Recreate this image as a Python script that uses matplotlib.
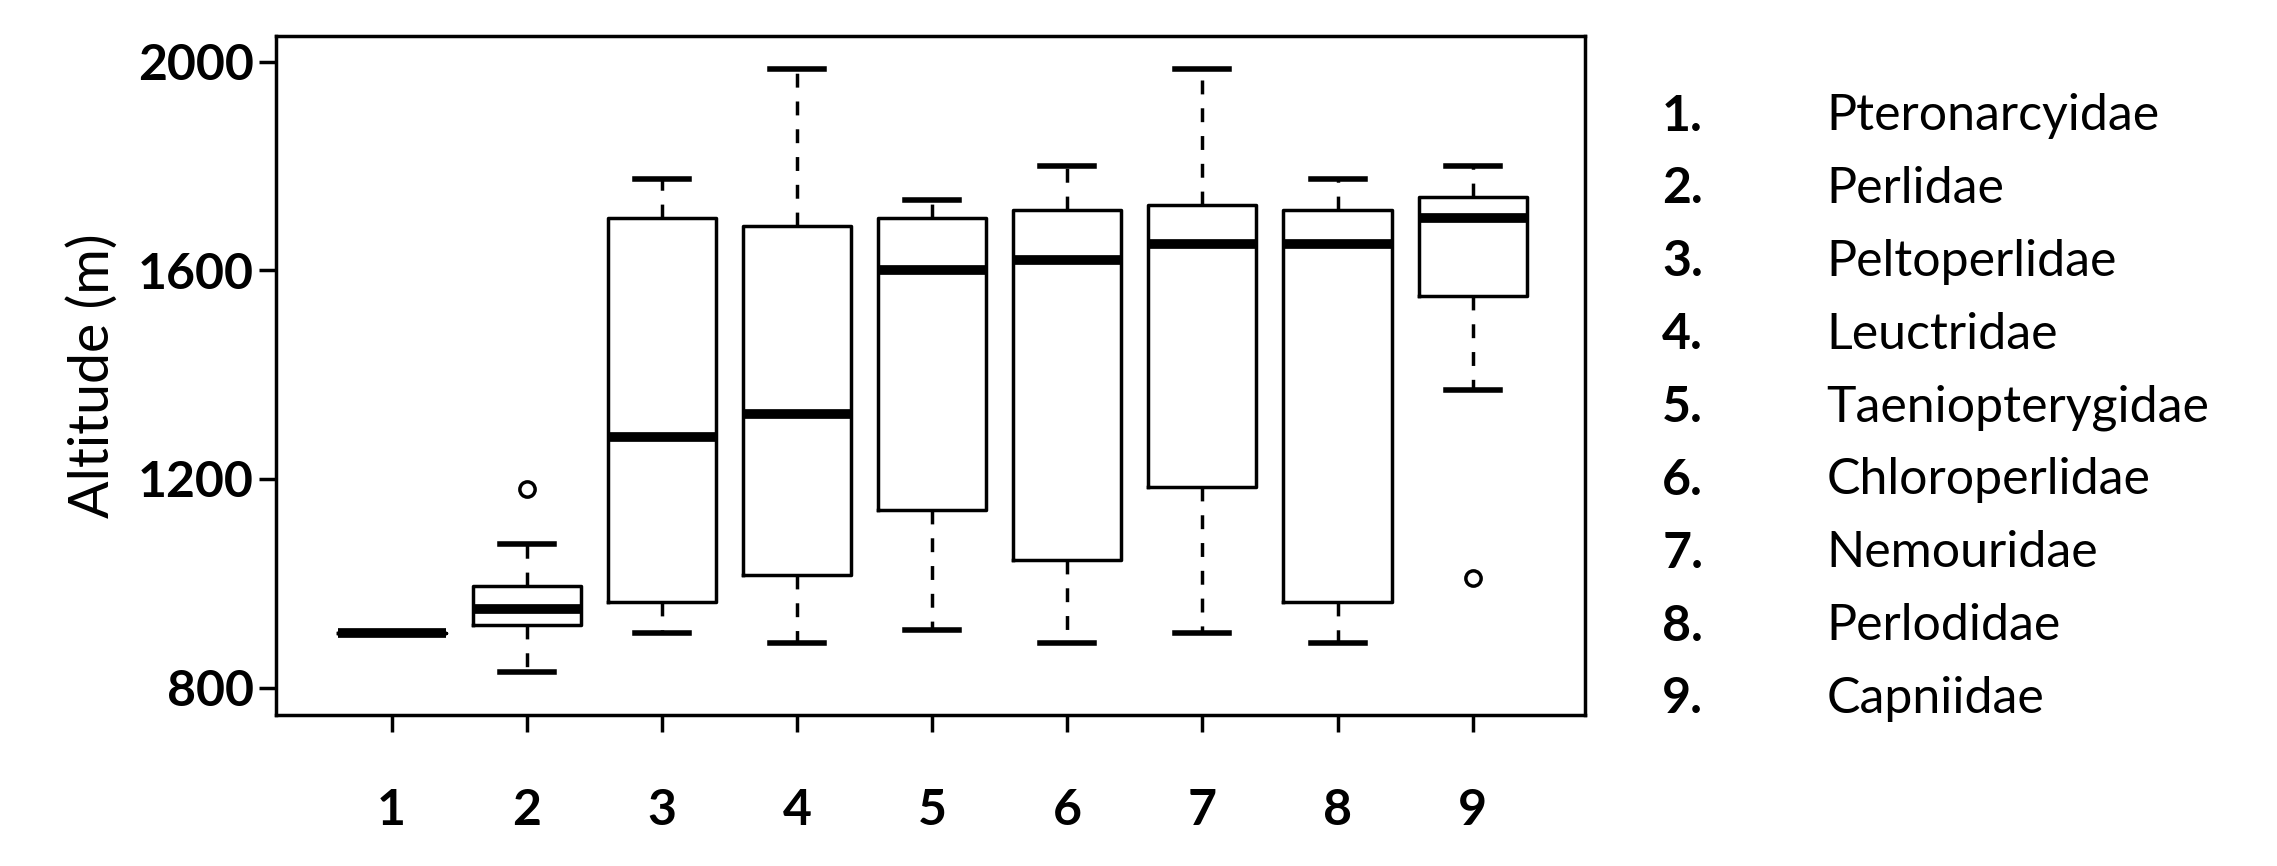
import matplotlib
matplotlib.use("Agg")
from matplotlib import pyplot as plt

families = ["Pteronarcyidae", "Perlidae", "Peltoperlidae", "Leuctridae", "Taeniopterygidae",
            "Chloroperlidae", "Nemouridae", "Perlodidae", "Capniidae"]
whislo = [905, 830, 905, 885, 910, 885, 905, 885, 1370]
q1 = [905, 920, 965, 1015, 1140, 1045, 1185, 965, 1550]
med = [905, 950, 1280, 1325, 1600, 1620, 1650, 1650, 1700]
q3 = [905, 995, 1700, 1685, 1700, 1715, 1725, 1715, 1740]
whishi = [905, 1075, 1775, 1985, 1735, 1800, 1985, 1775, 1800]
fliers = [[], [1180], [], [], [], [], [], [], [1010]]

plt.rcParams['font.family'] = ['Lato', 'DejaVu Sans']

stats = []
for i in range(len(families)):
    stats.append(dict(whislo=whislo[i], q1=q1[i], med=med[i], q3=q3[i],
                      whishi=whishi[i], fliers=fliers[i]))

fig = plt.figure(figsize=(22.77, 8.66), dpi=100)
ax = fig.add_axes([0.121, 0.174, 0.575, 0.785])
ax.bxp(stats, positions=range(1, 10), widths=0.8,
       boxprops=dict(linewidth=2.5, color='black'),
       medianprops=dict(linewidth=7, color='black'),
       whiskerprops=dict(linewidth=2.5, linestyle=(0, (4, 4)), color='black'),
       capprops=dict(linewidth=4, color='black'),
       flierprops=dict(marker='o', markersize=11, markerfacecolor='none',
                       markeredgecolor='black', markeredgewidth=2.5))
ax.set_xlim(0.14, 9.83)
ax.set_ylim(747, 2050)
ax.set_yticks([800, 1200, 1600, 2000])
ax.set_xticks(range(1, 10))
ax.set_xticklabels([str(i) for i in range(1, 10)])
for s in ax.spines.values():
    s.set_linewidth(2.5)
ax.tick_params(axis='both', labelsize=36, width=2.5, length=12)
ax.tick_params(axis='x', pad=40)
for t in ax.get_xticklabels() + ax.get_yticklabels():
    t.set_fontweight('bold')
ax.set_ylabel("Altitude (m)", fontsize=40, labelpad=14)

y0, y1 = 0.866, 0.193
for i, name in enumerate(families):
    y = y0 - i * (y0 - y1) / 8
    fig.text(0.730, y, f"{i + 1}.", fontsize=36, fontweight='bold', va='center')
    fig.text(0.802, y, name, fontsize=36, va='center')

fig.savefig("out.png")
